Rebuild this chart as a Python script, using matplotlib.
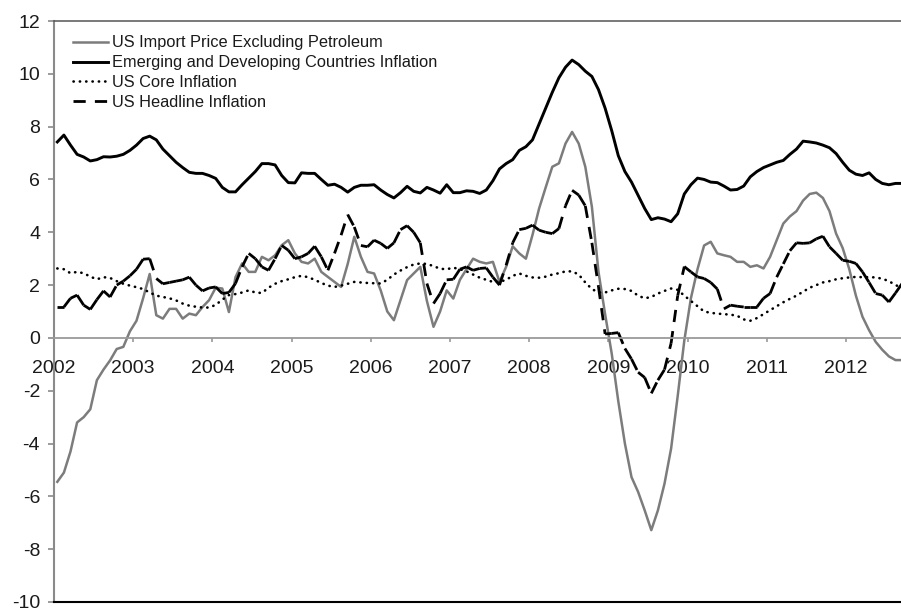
import numpy as np
import matplotlib
matplotlib.use("Agg")
import matplotlib.pyplot as plt
from matplotlib.collections import LineCollection
from matplotlib.lines import Line2D

plt.rcParams['font.family'] = ['Liberation Sans', 'DejaVu Sans']
plt.rcParams['axes.unicode_minus'] = False

# monthly, Jan 2002 .. Sep 2012 (% y/y)
import_ex_petrol = [
    -5.45, -5.1, -4.3, -3.2, -3.0, -2.7, -1.6, -1.2, -0.85, -0.42, -0.34, 0.25,
    0.65, 1.5, 2.42, 0.86, 0.73, 1.1, 1.1, 0.73, 0.92, 0.86, 1.17, 1.43,
    1.9, 1.87, 0.98, 2.3, 2.82, 2.5, 2.5, 3.07, 2.94, 3.13, 3.51, 3.7,
    3.2, 2.88, 2.82, 3.0, 2.5, 2.31, 2.12, 1.93, 2.8, 3.83, 3.07, 2.5,
    2.44, 1.8, 1.0, 0.67, 1.43, 2.19, 2.44, 2.69, 1.4, 0.42, 1.0, 1.8,
    1.49, 2.2, 2.6, 3.0, 2.88, 2.82, 2.88, 2.12, 2.69, 3.47, 3.2, 3.0,
    3.9, 4.9, 5.7, 6.48, 6.61, 7.36, 7.8, 7.36, 6.48, 4.96, 2.5, 0.9,
    -0.59, -2.4, -4.0, -5.27, -5.83, -6.53, -7.28, -6.53, -5.52, -4.19, -2.2, -0.1,
    1.5, 2.6, 3.5, 3.64, 3.2, 3.13, 3.07, 2.88, 2.88, 2.69, 2.75, 2.63,
    3.07, 3.7, 4.33, 4.6, 4.8, 5.2, 5.45, 5.5, 5.3, 4.8, 3.95, 3.4,
    2.6, 1.6, 0.8, 0.29, -0.15, -0.45, -0.7, -0.84, -0.84,
]
emerging = [
    7.42, 7.68, 7.3, 6.95, 6.85, 6.7, 6.75, 6.86, 6.85, 6.88, 6.95, 7.1,
    7.3, 7.55, 7.64, 7.5, 7.15, 6.9, 6.65, 6.45, 6.27, 6.23, 6.23, 6.15,
    6.04, 5.7, 5.53, 5.53, 5.8, 6.05, 6.3, 6.6, 6.6, 6.55, 6.15, 5.88,
    5.87, 6.25, 6.23, 6.23, 6.0, 5.78, 5.82, 5.7, 5.52, 5.7, 5.78, 5.78,
    5.8, 5.6, 5.43, 5.3, 5.5, 5.74, 5.55, 5.49, 5.7, 5.6, 5.48, 5.8,
    5.5, 5.5, 5.57, 5.55, 5.47, 5.6, 5.95, 6.4, 6.6, 6.75, 7.1, 7.24,
    7.5, 8.1, 8.7, 9.3, 9.85, 10.25, 10.52, 10.35, 10.1, 9.9, 9.4, 8.7,
    7.85, 6.9, 6.3, 5.9, 5.4, 4.9, 4.48, 4.55, 4.5, 4.4, 4.7, 5.45,
    5.8, 6.05, 6.0, 5.9, 5.88, 5.75, 5.6, 5.62, 5.75, 6.1, 6.3, 6.45,
    6.55, 6.65, 6.72, 6.95, 7.15, 7.45, 7.42, 7.38, 7.3, 7.2, 6.98, 6.65,
    6.35, 6.2, 6.15, 6.25, 6.0, 5.85, 5.8, 5.85, 5.85,
]
core = [
    2.63, 2.6, 2.45, 2.5, 2.45, 2.32, 2.22, 2.3, 2.27, 2.15, 2.05, 1.98,
    1.92, 1.85, 1.72, 1.6, 1.55, 1.5, 1.42, 1.3, 1.22, 1.18, 1.15, 1.15,
    1.25, 1.45, 1.62, 1.66, 1.72, 1.8, 1.72, 1.7, 1.9, 2.05, 2.15, 2.22,
    2.3, 2.35, 2.3, 2.2, 2.08, 1.98, 1.93, 1.98, 2.05, 2.12, 2.1, 2.08,
    2.07, 2.06, 2.2, 2.4, 2.55, 2.68, 2.78, 2.82, 2.8, 2.72, 2.62, 2.6,
    2.66, 2.6, 2.52, 2.4, 2.28, 2.2, 2.12, 2.12, 2.2, 2.35, 2.44, 2.35,
    2.29, 2.28, 2.32, 2.4, 2.45, 2.52, 2.52, 2.4, 2.1, 1.85, 1.72, 1.72,
    1.8, 1.86, 1.85, 1.78, 1.6, 1.5, 1.55, 1.68, 1.78, 1.87, 1.82, 1.6,
    1.4, 1.2, 1.0, 0.95, 0.92, 0.9, 0.88, 0.84, 0.7, 0.65, 0.75, 0.9,
    1.05, 1.2, 1.35, 1.48, 1.6, 1.75, 1.9, 2.0, 2.1, 2.15, 2.22, 2.26,
    2.29, 2.31, 2.3, 2.3, 2.29, 2.24, 2.15, 2.0, 1.9,
]
headline = [
    1.17, 1.17, 1.5, 1.62, 1.24, 1.08, 1.45, 1.78, 1.55, 2.0, 2.15, 2.35,
    2.6, 2.98, 3.0, 2.25, 2.05, 2.1, 2.15, 2.2, 2.3, 2.0, 1.78, 1.89,
    1.93, 1.68, 1.72, 2.06, 2.69, 3.2, 3.0, 2.69, 2.56, 3.0, 3.5, 3.32,
    3.0, 3.07, 3.2, 3.47, 3.07, 2.56, 3.2, 3.89, 4.67, 4.2, 3.5, 3.45,
    3.7, 3.58, 3.39, 3.6, 4.1, 4.25, 4.0, 3.6, 2.06, 1.3, 1.68, 2.2,
    2.22, 2.6, 2.69, 2.56, 2.63, 2.65, 2.3, 2.0, 2.75, 3.6, 4.1, 4.15,
    4.27, 4.08, 4.0, 3.95, 4.14, 5.0, 5.59, 5.41, 5.0, 3.6, 1.93, 0.15,
    0.17, 0.2, -0.4, -0.8, -1.3, -1.5, -2.1, -1.6, -1.2, -0.2, 1.6, 2.7,
    2.5, 2.31, 2.25, 2.1, 1.85, 1.1, 1.24, 1.2, 1.17, 1.17, 1.17, 1.5,
    1.68, 2.3, 2.8, 3.3, 3.6, 3.58, 3.6, 3.75, 3.85, 3.45, 3.2, 2.94,
    2.9, 2.82, 2.5, 2.1, 1.68, 1.62, 1.36, 1.7, 2.06,
]
labels = ['US Import Price Excluding Petroleum',
          'Emerging and Developing Countries Inflation',
          'US Core Inflation',
          'US Headline Inflation']
years = list(range(2002, 2013))
yticks = list(range(-10, 13, 2))

n = len(emerging)
t = 2002 + (np.arange(n) + 0.5) / 12.0

fig = plt.figure(figsize=(9.01, 6.12), dpi=100)
ax = fig.add_axes([54 / 901, 10 / 612, 847 / 901, 581 / 612])

gray = '#7c7c7c'
dotted = (0, (0.1, 2.3))
dashed = (0, (4.4, 3.3))
ax.plot(t, import_ex_petrol, color=gray, lw=1.8, solid_joinstyle='round')
ax.plot(t, emerging, color='black', lw=2.1, solid_joinstyle='round')
ax.plot(t, core, color='black', lw=1.9, linestyle=dotted,
        dash_capstyle='round')

# dash pattern restarts on every segment, like the spreadsheet original
h = np.array(headline)
segs = [[(t[i], h[i]), (t[i + 1], h[i + 1])] for i in range(n - 1)]
lc = LineCollection(segs, colors='black', linewidths=2.0,
                    linestyles=[dashed], capstyle='butt')
ax.add_collection(lc)

ax.set_xlim(2002, 2002 + 847 / 79.2)
ax.set_ylim(-10, 12)

ax.spines['bottom'].set_position(('data', 0))
ax.spines['bottom'].set_color('#9a9a9a')
ax.spines['bottom'].set_linewidth(1.3)
ax.spines['left'].set_color('#8a8a8a')
ax.spines['left'].set_linewidth(1.5)
ax.spines['top'].set_color('#555555')
ax.spines['top'].set_linewidth(1.1)
ax.spines['right'].set_visible(False)
ax.axhline(-10, color='black', lw=1.5, clip_on=False, zorder=5)

ax.set_xticks(years)
ax.set_xticklabels([str(y) for y in years])
ax.set_yticks(yticks)
ax.set_yticklabels([str(v) for v in yticks])
ax.tick_params(axis='x', direction='out', length=3, width=1.2,
               color='#9a9a9a', pad=13, labelsize=14, labelcolor='#1a1a1a')
ax.tick_params(axis='y', direction='out', length=4, width=1.2,
               color='#8a8a8a', pad=6, labelsize=14, labelcolor='#1a1a1a')

handles = [
    Line2D([], [], color=gray, lw=1.8),
    Line2D([], [], color='black', lw=2.1),
    Line2D([], [], color='black', lw=1.9, linestyle=dotted,
           dash_capstyle='round'),
    Line2D([], [], color='black', lw=2.0, linestyle=dashed),
]
leg = ax.legend(handles, labels, loc='upper left',
                bbox_to_anchor=(73 / 901, 1 - 35.5 / 612),
                bbox_transform=fig.transFigure, frameon=False,
                fontsize=11.8, handlelength=2.15, handletextpad=0.25,
                labelspacing=0.29, borderpad=0, borderaxespad=0)
for txt in leg.get_texts():
    txt.set_color('#1a1a1a')

fig.savefig('out.png', dpi=100)
